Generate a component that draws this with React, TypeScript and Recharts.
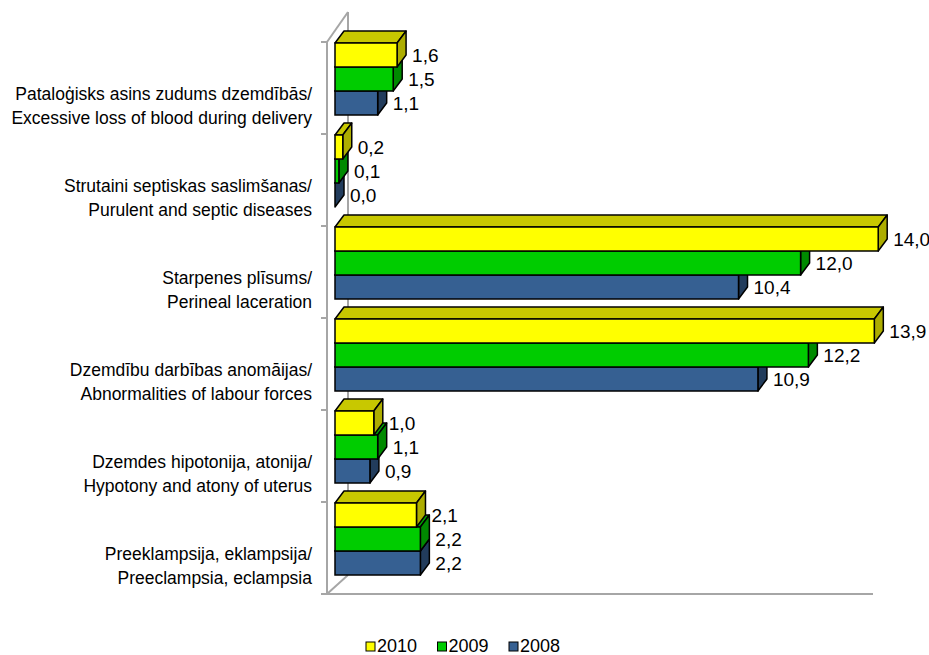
import React from "react";
import { BarChart, Bar, XAxis, YAxis } from "recharts";

const categoriesLv = [
  "Pataloģisks asins zudums dzemdībās/",
  "Strutaini septiskas saslimšanas/",
  "Starpenes plīsums/",
  "Dzemdību darbības anomāijas/",
  "Dzemdes hipotonija, atonija/",
  "Preeklampsija, eklampsija/",
];
const categoriesEn = [
  "Excessive loss of blood during delivery",
  "Purulent and septic diseases",
  "Perineal laceration",
  "Abnormalities of labour forces",
  "Hypotony and atony of uterus",
  "Preeclampsia, eclampsia",
];
const values2010 = [1.6, 0.2, 14.0, 13.9, 1.0, 2.1];
const values2009 = [1.5, 0.1, 12.0, 12.2, 1.1, 2.2];
const values2008 = [1.1, 0.0, 10.4, 10.9, 0.9, 2.2];

type Series = { key: string; front: string; top: string; side: string; slot: number };

// drawn bottom bar first so the 3d top faces get covered properly
const series: Series[] = [
  { key: "2008", front: "#366092", top: "#2b4d75", side: "#223c5c", slot: 2 },
  { key: "2009", front: "#00cc00", top: "#00a300", side: "#008a00", slot: 1 },
  { key: "2010", front: "#ffff00", top: "#c8c800", side: "#adad00", slot: 0 },
];
const legendOrder = ["2010", "2009", "2008"];

const data = categoriesLv.map((lv, i) => ({
  lv,
  en: categoriesEn[i],
  "2010": values2010[i],
  "2009": values2009[i],
  "2008": values2008[i],
}));

const W = 929;
const H = 655;
const DX = 9;
const DY = 12;
const FONT = "'Liberation Sans', Arial, sans-serif";
const GRAY = "#a6a6a6";

const Bar3D = (props: any) => {
  const { x, width, height, value, s, index } = props;
  const declared = series.indexOf(s);
  const y = props.y + (s.slot - declared) * height;
  const w = Math.max(width, 0);
  const x1 = x + w;
  const label = Number(value).toFixed(1).replace(".", ",");
  return (
    <g key={index}>
      <polygon
        points={`${x},${y} ${x + DX},${y - DY} ${x1 + DX},${y - DY} ${x1},${y}`}
        fill={s.top}
        stroke="#000"
        strokeWidth={1.5}
        strokeLinejoin="round"
      />
      <polygon
        points={`${x1},${y} ${x1 + DX},${y - DY} ${x1 + DX},${y + height - DY} ${x1},${y + height}`}
        fill={s.side}
        stroke="#000"
        strokeWidth={1.5}
        strokeLinejoin="round"
      />
      <rect x={x} y={y} width={w} height={height} fill={s.front} stroke="#000" strokeWidth={1.5} />
      <text x={x1 + DX + 6} y={y + height / 2 + 6.5} fontSize={19} fontFamily={FONT} fill="#000">
        {label}
      </text>
    </g>
  );
};

const CatTick = (props: any) => {
  const { x, y, payload } = props;
  const row = data.find((d) => d.lv === payload.value);
  return (
    <text x={x} y={y} textAnchor="end" fontSize={17.5} fontFamily={FONT} fill="#000">
      <tspan x={x} y={y + 20}>{payload.value}</tspan>
      <tspan x={x} y={y + 44.5}>{row ? row.en : ""}</tspan>
    </text>
  );
};

const legendColor = (k: string) => series.find((s) => s.key === k)!.front;

export default function App() {
  const ticks = Array.from({ length: 7 }, (_, i) => 42 + i * 92);
  return (
    <div style={{ position: "absolute", left: 0, top: 0, width: W, height: H, background: "#fff" }}>
      <svg width={W} height={H} style={{ position: "absolute", left: 0, top: 0 }}>
        <g stroke={GRAY} strokeWidth={2} fill="none">
          <line x1={327} y1={42} x2={327} y2={594} />
          <line x1={348} y1={12} x2={348} y2={575} />
          <line x1={327} y1={42} x2={348} y2={12} />
          <line x1={327} y1={594} x2={348} y2={575} />
          <line x1={327} y1={594} x2={873} y2={594} />
          {ticks.map((t) => (
            <line key={t} x1={321} y1={t} x2={327} y2={t} />
          ))}
        </g>
        {legendOrder.map((k, i) => {
          const lx = 366 + i * 71.5;
          return (
            <g key={k}>
              <rect x={lx} y={642} width={9} height={9} fill={legendColor(k)} stroke="#000" strokeWidth={1} />
              <text x={lx + 11} y={652} fontSize={18} fontFamily={FONT} fill="#000">
                {k}
              </text>
            </g>
          );
        })}
      </svg>
      <div style={{ position: "absolute", left: 0, top: 0 }}>
        <BarChart
          width={W}
          height={H}
          data={data}
          layout="vertical"
          margin={{ top: 33.6, right: 12, left: 0, bottom: 69.4 }}
          barCategoryGap={9.4}
          barGap={0}
        >
          <XAxis type="number" domain={[0, 15]} hide />
          <YAxis
            type="category"
            dataKey="lv"
            width={335}
            interval={0}
            tickSize={0}
            tickMargin={23}
            axisLine={false}
            tickLine={false}
            tick={<CatTick />}
          />
          {series.map((s) => (
            <Bar
              key={s.key}
              dataKey={s.key}
              isAnimationActive={false}
              shape={(p: any) => <Bar3D {...p} s={s} />}
            />
          ))}
        </BarChart>
      </div>
    </div>
  );
}
